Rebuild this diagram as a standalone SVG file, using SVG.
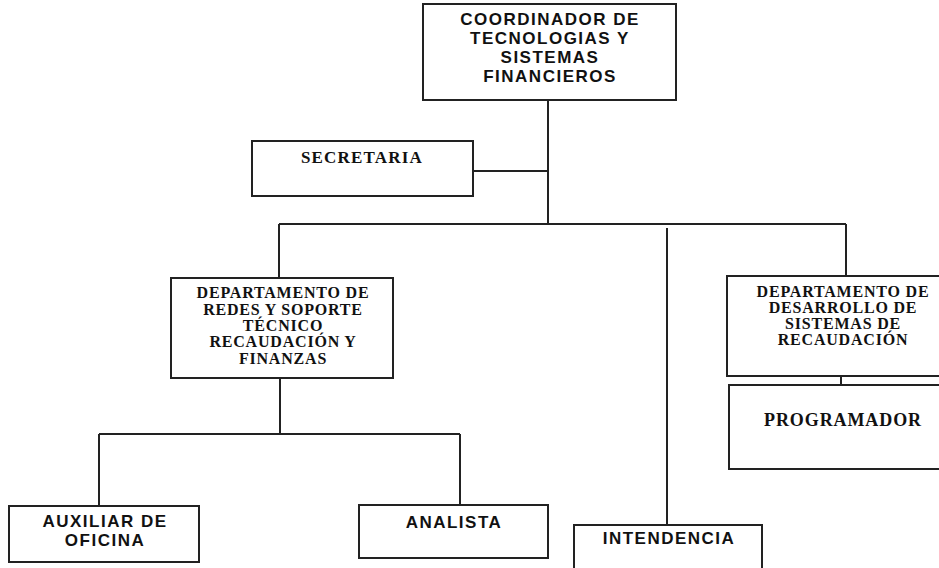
<svg xmlns="http://www.w3.org/2000/svg" width="939" height="568" viewBox="0 0 939 568">
<style>
.box{fill:#fff;stroke:#222;stroke-width:2}
.ln{stroke:#222;stroke-width:2;fill:none}
.sans{font-family:"Liberation Sans",Arial,sans-serif;font-weight:bold;font-size:17px;letter-spacing:1.5px;fill:#111;text-anchor:middle}
.serif{font-family:"Liberation Serif","Times New Roman",serif;font-weight:bold;font-size:16px;letter-spacing:0.8px;fill:#111;text-anchor:middle}
</style>
<rect width="939" height="568" fill="#fff"/>
<g id="connectors">
<path class="ln" d="M548 100V224M473 171H548M279 224H846M279 224V278M846 224V276M667 228V525M280 378V434M99 434H460M99 434V506M460 434V505M841 376V385"/>
</g>
<g id="coordinador">
<rect class="box" x="423" y="4" width="253" height="96"/>
<text class="sans" x="550" y="25">COORDINADOR  DE</text>
<text class="sans" x="550" y="44">TECNOLOGIAS Y</text>
<text class="sans" x="550" y="63">SISTEMAS</text>
<text class="sans" x="550" y="82">FINANCIEROS</text>
</g>
<g id="secretaria">
<rect class="box" x="252" y="141" width="221" height="55"/>
<text class="serif" x="362" y="163" style="font-size:17px;letter-spacing:1.2px">SECRETARIA</text>
</g>
<g id="dept-redes">
<rect class="box" x="171" y="278" width="222" height="100"/>
<text class="serif" x="283" y="298">DEPARTAMENTO DE</text>
<text class="serif" x="283" y="315">REDES Y SOPORTE</text>
<text class="serif" x="283" y="331">TÉCNICO</text>
<text class="serif" x="283" y="347">RECAUDACIÓN Y</text>
<text class="serif" x="283" y="364">FINANZAS</text>
</g>
<g id="dept-desarrollo">
<rect class="box" x="727" y="276" width="220" height="100"/>
<text class="serif" x="843" y="297">DEPARTAMENTO DE</text>
<text class="serif" x="843" y="313">DESARROLLO DE</text>
<text class="serif" x="843" y="329">SISTEMAS DE</text>
<text class="serif" x="843" y="345">RECAUDACIÓN</text>
</g>
<g id="programador">
<rect class="box" x="729" y="385" width="220" height="84"/>
<text class="serif" x="843" y="426" style="font-size:18px;letter-spacing:0.9px">PROGRAMADOR</text>
</g>
<g id="auxiliar">
<rect class="box" x="9" y="506" width="190" height="56"/>
<text class="sans" x="105" y="527">AUXILIAR DE</text>
<text class="sans" x="105" y="546">OFICINA</text>
</g>
<g id="analista">
<rect class="box" x="359" y="505" width="189" height="53"/>
<text class="sans" x="454" y="528">ANALISTA</text>
</g>
<g id="intendencia">
<rect class="box" x="574" y="525" width="188" height="60"/>
<text class="sans" x="669" y="544">INTENDENCIA</text>
</g>
</svg>
